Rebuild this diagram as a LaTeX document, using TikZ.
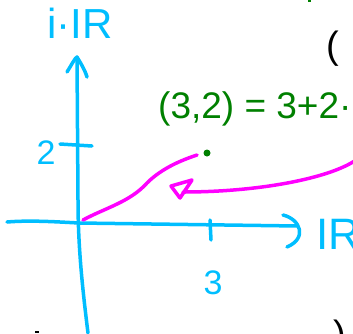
\documentclass[tikz,border=0pt]{standalone}
\usepackage{fontspec}
\setmainfont{Liberation Sans}
\definecolor{skyb}{RGB}{0,190,255}
\definecolor{mag}{RGB}{255,0,255}
\definecolor{grn}{RGB}{0,128,0}
\begin{document}
\begin{tikzpicture}[x=1pt,y=-1pt,
  ax/.style={draw=skyb,line width=3.5pt,line cap=round,line join=round},
  mg/.style={draw=mag,line width=3.5pt,line cap=round,line join=round},
  lbl/.style={text=skyb,inner sep=0pt},
  glbl/.style={text=grn,inner sep=0pt},
  blbl/.style={text=black,inner sep=0pt}]
\useasboundingbox (0,0) rectangle (353,333);
\clip (0,0) rectangle (353,333);
% coordinates
\coordinate (ybot) at (88,333);
\coordinate (ymid) at (78,200);
\coordinate (ytop) at (77,57);
\coordinate (xleft) at (7,222);
\coordinate (origin) at (79,223);
\coordinate (xright) at (298,226);
% labels
\node[lbl,font=\fontsize{42}{42}\selectfont] (ylab) at (80,23) {i·IR};
\node[lbl,font=\fontsize{34}{34}\selectfont] (two) at (46,153) {2};
\node[lbl,font=\fontsize{34}{34}\selectfont] (three) at (213,283) {3};
\node[lbl,anchor=west,font=\fontsize{44}{44}\selectfont] (xlab) at (316,234) {IR};
\node[glbl,anchor=base west,font=\fontsize{37}{37}\selectfont] (eq) at (158,118) {(3,2) = 3+2·};
\node[blbl,font=\fontsize{38}{38}\selectfont] (lp) at (333,49) {(};
\node[blbl,font=\fontsize{38}{38}\selectfont] (rp) at (340,338) {)};
% axes
\draw[ax] (ybot) .. controls (82,285) and (78,245) .. (ymid) -- (ytop);
\draw[ax] (67,72) .. controls (72,64) and (75,58) .. (ytop) .. controls (80,62) and (85,70) .. (87,77);
\draw[ax] (xleft) .. controls (30,220) and (60,222) .. (origin) -- (xright);
\draw[ax] (283,215) .. controls (300,219) and (308,238) .. (287,247);
\coordinate (t2a) at (60,144); \coordinate (t2b) at (92,146);
\draw[ax] (t2a) -- (t2b);
\coordinate (t3a) at (210,220); \coordinate (t3b) at (211,240);
\draw[ax] (t3a) -- (t3b);
% point
\node[circle,fill=grn,minimum size=7pt,inner sep=0pt] (pt) at (207,153) {};
% magenta vector
\coordinate (v0) at (83,220);
\coordinate (v1) at (147,183);
\coordinate (v2) at (197,155);
\draw[mg] (v0) .. controls (105,208) and (130,202) .. (v1) .. controls (162,168) and (182,160) .. (v2);
% magenta arrow
\coordinate (ms) at (356,160);
\coordinate (me) at (183,192);
\draw[mg] (ms) .. controls (330,178) and (260,192) .. (me);
\draw[mg] (192,180) -- (171,186) -- (180,198) -- cycle;
% small marks
\fill[black] (35,331) rectangle (39,333);
\fill[grn] (308,0) rectangle (311,2);
\end{tikzpicture}
\end{document}
